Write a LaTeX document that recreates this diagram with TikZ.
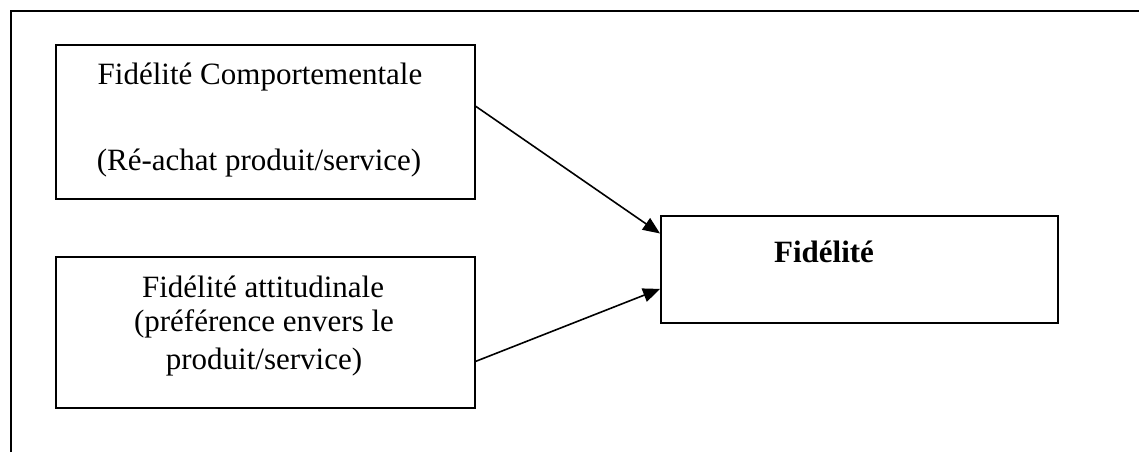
\documentclass[tikz,border=0pt]{standalone}
\usepackage{fontspec}
\setmainfont{Liberation Serif}
\usetikzlibrary{arrows.meta,calc}
\begin{document}
\begin{tikzpicture}[x=1pt,y=-1pt,
  box/.style={draw,line width=1.7pt,rectangle,inner sep=0pt,anchor=north west},
  txt/.style={font=\fontsize{31}{37.5}\selectfont,inner sep=0pt,anchor=center},
  link/.style={line width=1.6pt,-{Triangle[length=17pt,width=14pt]}}]
\useasboundingbox (0,0) rectangle (1139,452);
% frame edges
\draw[line width=2.2pt] (11,452) -- (11,11) -- (1139,11);
% boxes
\node[box,minimum width=419pt,minimum height=154pt] (b1) at (55,44) {};
\node[box,minimum width=419pt,minimum height=151pt] (b2) at (55,256) {};
\node[box,minimum width=397pt,minimum height=107pt] (b3) at (660,215) {};
% texts
\node[txt] (t1a) at (260,77) {Fidélité Comportementale};
\node[txt] (t1b) at (259,163) {(Ré-achat produit/service)};
\node[txt] (t2a) at (263,287) {Fidélité attitudinale};
\node[txt] (t2b) at (264,324) {(préférence envers le};
\node[txt] (t2c) at (264,362) {produit/service)};
\node[txt,font=\fontsize{31}{37.5}\selectfont\bfseries] (t3) at (824,252) {Fidélité};
% connectors
\draw[link] ($(b1.north east)!0.40!(b1.south east)$) -- ($(b3.north west)!0.17!(b3.south west)$);
\draw[link] ($(b2.north east)!0.69!(b2.south east)$) -- ($(b3.north west)!0.68!(b3.south west)$);
\end{tikzpicture}
\end{document}
